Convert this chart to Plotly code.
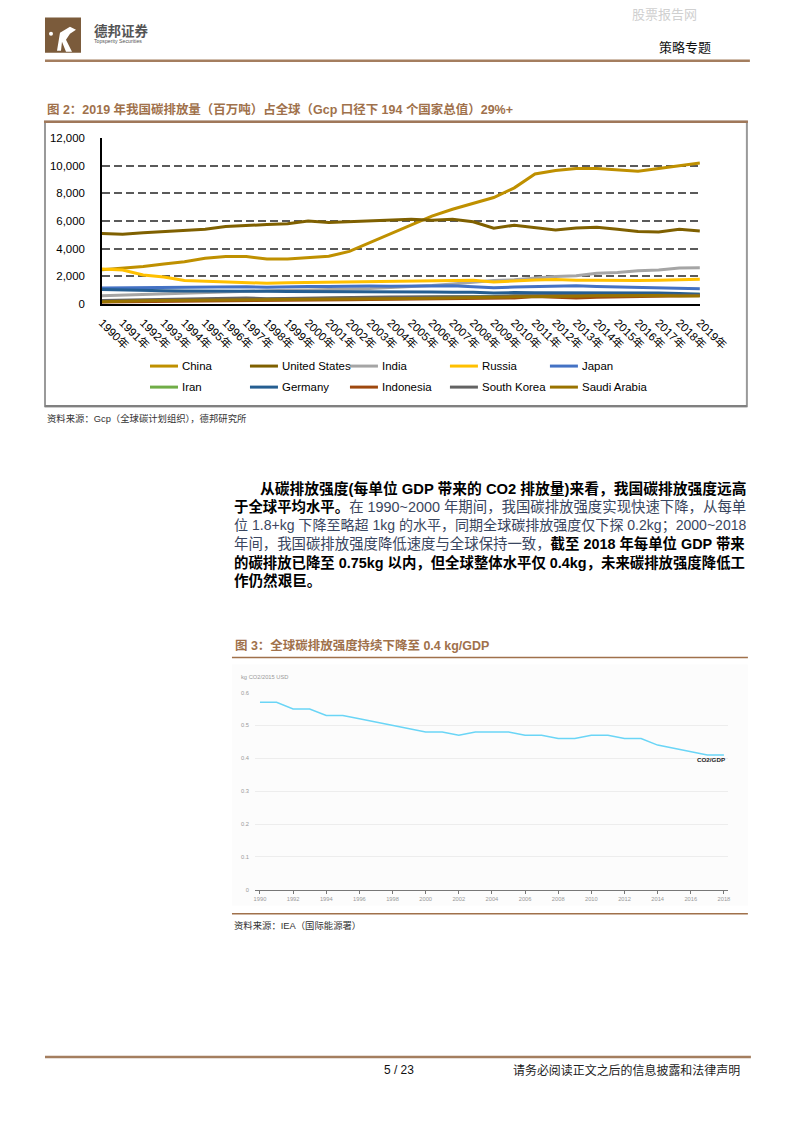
import plotly.graph_objects as go

W, H = 793, 1122
# empirical correction of the capture (screenshot is slightly rescaled)
AX, BX = 5.0, 0.956
AY, BY = 6.4, 0.988
FS = 1.04

def fx(r): return (r - AX) / BX          # figure pixel for reference pixel
def fy(r): return (r - AY) / BY
def px(r): return fx(r) / W
def py(r): return 1 - fy(r) / H

# ---------------- Data: chart 1 (million tonnes CO2) ----------------
years = list(range(1990, 2020))
year_labels = [f"{y}年" for y in years]

china = [2480, 2600, 2720, 2900, 3050, 3300, 3430, 3430, 3250, 3260,
         3350, 3450, 3800, 4450, 5100, 5750, 6350, 6850, 7300, 7700,
         8400, 9400, 9650, 9800, 9800, 9720, 9600, 9800, 10000, 10200]
united_states = [5100, 5050, 5150, 5250, 5350, 5400, 5600, 5700, 5750, 5800,
                 6000, 5900, 5950, 6000, 6100, 6130, 6050, 6130, 5950, 5480,
                 5700, 5550, 5350, 5500, 5550, 5400, 5250, 5200, 5400, 5280]
india = [600, 650, 700, 730, 780, 850, 880, 920, 950, 1000,
         1020, 1040, 1070, 1120, 1200, 1250, 1340, 1450, 1560, 1700,
         1750, 1860, 1990, 2040, 2230, 2270, 2400, 2460, 2600, 2620]
russia = [2530, 2450, 2100, 1950, 1700, 1650, 1610, 1520, 1500, 1540,
          1560, 1560, 1570, 1600, 1620, 1640, 1690, 1690, 1720, 1590,
          1670, 1740, 1770, 1710, 1720, 1700, 1700, 1720, 1770, 1780]
japan = [1160, 1170, 1180, 1170, 1230, 1240, 1250, 1250, 1210, 1250,
         1270, 1260, 1290, 1300, 1290, 1300, 1290, 1320, 1250, 1170,
         1220, 1270, 1310, 1320, 1270, 1230, 1210, 1200, 1150, 1110]
iran = [200, 220, 235, 250, 270, 280, 290, 300, 320, 340,
        350, 370, 390, 410, 440, 480, 510, 520, 550, 570,
        570, 590, 600, 610, 640, 630, 640, 670, 690, 700]
germany = [1050, 1010, 960, 950, 940, 940, 960, 930, 920, 900,
           900, 910, 900, 900, 880, 860, 870, 850, 850, 790,
           830, 810, 810, 830, 790, 800, 800, 790, 750, 700]
indonesia = [150, 160, 170, 180, 190, 210, 230, 250, 240, 260,
             280, 300, 310, 330, 340, 340, 350, 380, 390, 400,
             430, 550, 520, 440, 480, 510, 530, 560, 600, 620]
south_korea = [250, 270, 290, 320, 350, 380, 410, 440, 380, 410,
               450, 460, 480, 490, 500, 500, 510, 530, 540, 540,
               590, 620, 620, 620, 620, 630, 630, 650, 660, 640]
saudi_arabia = [170, 220, 240, 250, 260, 250, 260, 270, 280, 290,
                300, 310, 330, 350, 380, 400, 420, 430, 460, 480,
                520, 520, 550, 560, 600, 620, 620, 610, 580, 580]

country_names = ["China", "United States", "India", "Russia", "Japan",
                 "Iran", "Germany", "Indonesia", "South Korea", "Saudi Arabia"]
country_values = [china, united_states, india, russia, japan,
                  iran, germany, indonesia, south_korea, saudi_arabia]
country_colors = ["#BF9000", "#7F6000", "#A5A5A5", "#FFC000", "#4472C4",
                  "#70AD47", "#255E91", "#9E480E", "#636363", "#997300"]

y1_ticks = [0, 2000, 4000, 6000, 8000, 10000, 12000]
y1_labels = ["0", "2,000", "4,000", "6,000", "8,000", "10,000", "12,000"]

# ---------------- Data: chart 2 (kg CO2 / 2015 USD) ----------------
years2 = list(range(1990, 2019))
intensity = [0.57, 0.57, 0.55, 0.55, 0.53, 0.53, 0.52, 0.51, 0.50, 0.49,
             0.48, 0.48, 0.47, 0.48, 0.48, 0.48, 0.47, 0.47, 0.46, 0.46,
             0.47, 0.47, 0.46, 0.46, 0.44, 0.43, 0.42, 0.41, 0.41]
x2_ticks = list(range(1990, 2019, 2))
y2_ticks = [0, 0.1, 0.2, 0.3, 0.4, 0.5, 0.6]
y2_labels = ["0", "0.1", "0.2", "0.3", "0.4", "0.5", "0.6"]

LAT = "Liberation Sans, Arial, Noto Sans CJK SC"
CJK = "Liberation Sans, Noto Sans CJK SC"
BROWN = "#A0714B"

fig = go.Figure()

for name, vals, col in zip(country_names, country_values, country_colors):
    fig.add_trace(go.Scatter(x=years, y=vals, mode="lines", name=name,
                             line=dict(color=col, width=3),
                             xaxis="x", yaxis="y", showlegend=False,
                             hoverinfo="skip"))

fig.add_trace(go.Scatter(x=years2, y=intensity, mode="lines", name="CO2/GDP",
                         line=dict(color="#6AD5F6", width=1.5),
                         xaxis="x2", yaxis="y2", showlegend=False,
                         hoverinfo="skip"))

shapes = []
annotations = []

def txt(x, y, text, size, color="#000", xanchor="left", family=CJK, yanchor="middle"):
    annotations.append(dict(x=px(x), y=py(y), xref="paper", yref="paper",
                            text=text, showarrow=False, xanchor=xanchor,
                            yanchor=yanchor,
                            font=dict(size=size * FS, color=color, family=family)))

def hline(x0, x1, y, color, width):
    shapes.append(dict(type="line", xref="paper", yref="paper",
                       x0=px(x0), x1=px(x1), y0=py(y), y1=py(y),
                       line=dict(color=color, width=width)))

# ---------------- Header ----------------
shapes.append(dict(type="rect", xref="paper", yref="paper",
                   x0=px(45), x1=px(81), y0=py(53), y1=py(18),
                   fillcolor="#7B5B3B", line=dict(width=0)))
shapes.append(dict(type="path", xref="paper", yref="paper",
                   path=(f"M {px(57)},{py(51)} L {px(60)},{py(33)} "
                         f"L {px(70)},{py(27)} L {px(76)},{py(30)} "
                         f"L {px(70)},{py(34)} L {px(66)},{py(40)} "
                         f"L {px(72)},{py(52)} L {px(66)},{py(52)} "
                         f"L {px(62)},{py(42)} L {px(61)},{py(51)} Z"),
                   fillcolor="white", line=dict(width=0)))
shapes.append(dict(type="circle", xref="paper", yref="paper",
                   x0=px(49), x1=px(53), y0=py(36), y1=py(32),
                   fillcolor="white", line=dict(width=0)))
txt(92, 31, "<b>德邦证券</b>", 13, "#555555")
txt(92, 41, "Topsperity Securities", 5, "#555555", family=LAT)
txt(630, 15, "股票报告网", 12.5, "#D0D0D0")
txt(657, 48, "策略专题", 12.5, "#111111")
hline(45, 750, 61, "#A47E5F", 2.5)

# ---------------- Chart 1 frame & title ----------------
txt(45, 110, "<b>图 2：2019 年我国碳排放量（百万吨）占全球（Gcp 口径下 194 个国家总值）29%+</b>",
    12, BROWN)
shapes.append(dict(type="rect", xref="paper", yref="paper",
                   x0=px(45), x1=px(747), y0=py(406), y1=py(122),
                   line=dict(color="#9A9A9A", width=2), fillcolor="rgba(0,0,0,0)"))
hline(45, 747, 406, "#808080", 2.2)
hline(44, 748, 122, "#A0785A", 2.5)

# Legend (manual, two rows of five)
leg_x = [180, 280, 380, 480, 580]
leg_y = [366, 387]
for i, (name, col) in enumerate(zip(country_names, country_colors)):
    r, c = divmod(i, 5)
    hline(leg_x[c] - 30, leg_x[c] - 2, leg_y[r], col, 3)
    txt(leg_x[c] + 0.5, leg_y[r], name, 11, "#000000", family=LAT)

txt(45, 418, "资料来源：Gcp（全球碳计划组织），德邦研究所", 9, "#333333")

# ---------------- Paragraph ----------------
REG = "#3A4660"
para_y = [488, 506.5, 525, 543.5, 562, 580.5]
txt(258, para_y[0], "<b>从碳排放强度(每单位 GDP 带来的 CO2 排放量)来看，我国碳排放强度远高</b>", 14.2)
txt(232, para_y[1], "<b>于全球平均水平。</b>"
    f"<span style='color:{REG}'>在 1990~2000 年期间，我国碳排放强度实现快速下降，从每单</span>", 13.85)
txt(232, para_y[2], f"<span style='color:{REG}'>位 1.8+kg 下降至略超 1kg 的水平，同期全球碳排放强度仅下探 0.2kg；2000~2018</span>", 13.5)
txt(232, para_y[3], f"<span style='color:{REG}'>年间，我国碳排放强度降低速度与全球保持一致，</span>"
    "<b>截至 2018 年每单位 GDP 带来</b>", 13.85)
txt(232, para_y[4], "<b>的碳排放已降至 0.75kg 以内，但全球整体水平仅 0.4kg，未来碳排放强度降低工</b>", 13.85)
txt(232, para_y[5], "<b>作仍然艰巨。</b>", 14)

# ---------------- Chart 2 frame & title ----------------
txt(233, 645, "<b>图 3：全球碳排放强度持续下降至 0.4 kg/GDP</b>", 12, BROWN)
hline(232, 748, 657, BROWN, 1.5)
shapes.append(dict(type="rect", xref="paper", yref="paper", layer="below",
                   x0=px(232), x1=px(748), y0=py(905), y1=py(664),
                   fillcolor="#FCFCFC", line=dict(width=0)))
txt(239, 677, "kg CO2/2015 USD", 5.5, "#999999", family=LAT)
annotations.append(dict(x=2017.2, y=0.396, xref="x2", yref="y2",
                        text="<b>CO2/GDP</b>", showarrow=False,
                        xanchor="center", yanchor="middle",
                        font=dict(size=6 * FS, color="#222222", family=LAT)))
hline(232, 748, 913, BROWN, 1.5)
txt(232, 925, "资料来源：IEA（国际能源署）", 9, "#333333")

# ---------------- Footer ----------------
hline(45, 751, 1056, "#A47E5F", 2.5)
txt(399, 1069, "5 / 23", 11.5, "#111111", xanchor="center", family=LAT)
txt(511, 1069, "请务必阅读正文之后的信息披露和法律声明", 11.5, "#222222")

fig.update_layout(
    width=W, height=H,
    margin=dict(l=0, r=0, t=0, b=0),
    paper_bgcolor="white", plot_bgcolor="rgba(0,0,0,0)",
    showlegend=False,
    shapes=shapes, annotations=annotations,
    xaxis=dict(domain=[px(102), px(700)], range=[1990, 2019],
               tickvals=years, ticktext=year_labels, tickangle=45,
               tickfont=dict(size=11 * FS, color="#000", family=LAT),
               showline=True, linecolor="#000", linewidth=1.5,
               showgrid=False, zeroline=False, ticks="", anchor="y",
               ticklabelstandoff=6, fixedrange=True),
    yaxis=dict(domain=[py(304), py(138)], range=[0, 12020],
               tickvals=y1_ticks, ticktext=y1_labels,
               tickfont=dict(size=11 * FS, color="#000", family=LAT),
               showgrid=True, gridcolor="#5A5A5A", gridwidth=1.5,
               griddash="8px,4px",
               showline=True, linecolor="#000", linewidth=1.5,
               zeroline=False, ticks="", anchor="x",
               ticklabelstandoff=13, fixedrange=True),
    xaxis2=dict(domain=[px(255), px(728)], range=[1989.698, 2018.241],
                tickvals=x2_ticks, ticktext=[str(v) for v in x2_ticks],
                tickfont=dict(size=5.5 * FS, color="#999999", family=LAT),
                showline=True, linecolor="#777777", linewidth=1,
                ticks="outside", ticklen=3, tickcolor="#777777",
                showgrid=False, zeroline=False, anchor="y2", fixedrange=True),
    yaxis2=dict(domain=[py(889), py(692)], range=[0, 0.6],
                tickvals=y2_ticks, ticktext=y2_labels,
                tickfont=dict(size=5.5 * FS, color="#999999", family=LAT),
                showgrid=True, gridcolor="#EDEDED", gridwidth=1,
                showline=False, zeroline=False, ticks="", anchor="x2",
                ticklabelstandoff=5, fixedrange=True),
)

fig.write_html(
    "out.html",
    config={"displayModeBar": False},
    post_script=("document.documentElement.style.margin='0';"
                 "document.documentElement.style.overflow='hidden';"
                 "document.body.style.margin='0';"
                 "document.body.style.padding='0';"
                 "document.body.style.overflow='hidden';"),
)
